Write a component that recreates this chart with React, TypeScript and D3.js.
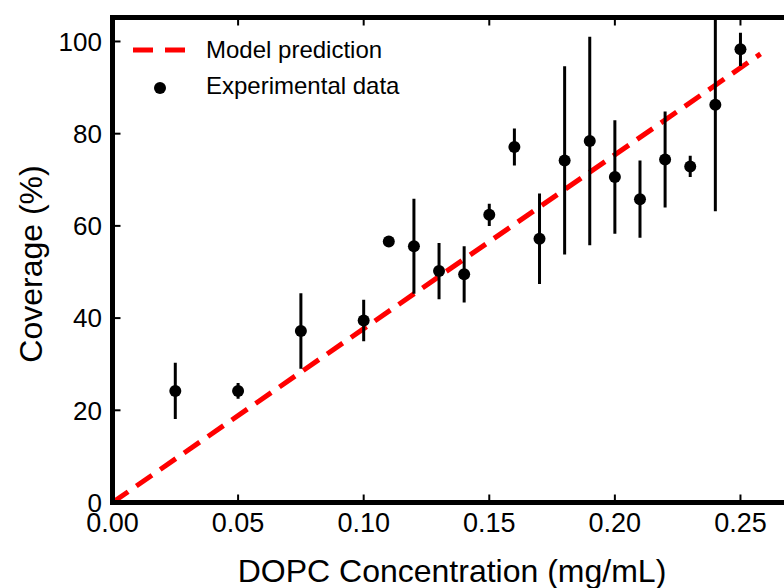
import React, { useEffect, useRef } from "react";
import * as d3 from "d3";

// DOPC concentration (mg/mL) and measured coverage (%) with error bars
const concentration = [0.025, 0.05, 0.075, 0.1, 0.11, 0.12, 0.13, 0.14, 0.15, 0.16, 0.17, 0.18, 0.19, 0.2, 0.21, 0.22, 0.23, 0.24, 0.25];
const coverage = [24.2, 24.2, 37.2, 39.5, 56.6, 55.6, 50.2, 49.5, 62.4, 77.1, 57.2, 74.2, 78.4, 70.6, 65.8, 74.4, 72.9, 86.3, 98.3];
const coverageErr = [6.1, 1.7, 8.2, 4.5, 0, 10.3, 6.1, 6.1, 2.4, 4.0, 9.8, 20.4, 22.6, 12.3, 8.4, 10.4, 2.3, 23.1, 3.6];

// model prediction line
const modelX = [0, 0.258];
const modelY = [0, 97.3];

const xTicks = [0, 0.05, 0.1, 0.15, 0.2, 0.25];
const yTicks = [0, 20, 40, 60, 80, 100];

const legendLabels = ["Model prediction", "Experimental data"];

const FONT = "'Liberation Sans', Arial, Helvetica, sans-serif";

export default function App() {
  const svgRef = useRef<SVGSVGElement>(null);
  const W = 784;
  const H = 588;
  const left = 112.5;
  const top = 17.5;
  const bottom = 502.5;
  const right = 790.7;

  useEffect(() => {
    const svg = d3.select(svgRef.current);
    svg.selectAll("*").remove();

    const x = d3.scaleLinear().domain([0, 0.27]).range([left, right]);
    const y = d3.scaleLinear().domain([0, 105.2]).range([bottom, top]);

    svg.append("rect").attr("width", W).attr("height", H).attr("fill", "#fff");

    svg
      .append("clipPath")
      .attr("id", "plotclip")
      .append("rect")
      .attr("x", left)
      .attr("y", top)
      .attr("width", right - left)
      .attr("height", bottom - top);

    const plot = svg.append("g").attr("clip-path", "url(#plotclip)");

    // model line
    const line = d3
      .line<number>()
      .x((d) => x(d))
      .y((d, i) => y(modelY[i]));
    plot
      .append("path")
      .attr("d", line(modelX))
      .attr("fill", "none")
      .attr("stroke", "#ff0000")
      .attr("stroke-width", 5)
      .attr("stroke-dasharray", "19,10");

    // error bars
    plot
      .selectAll(".err")
      .data(concentration)
      .enter()
      .append("line")
      .attr("x1", (d) => x(d))
      .attr("x2", (d) => x(d))
      .attr("y1", (d, i) => y(coverage[i] - coverageErr[i]))
      .attr("y2", (d, i) => y(coverage[i] + coverageErr[i]))
      .attr("stroke", "#000")
      .attr("stroke-width", 3);

    // points
    plot
      .selectAll(".pt")
      .data(concentration)
      .enter()
      .append("circle")
      .attr("cx", (d) => x(d))
      .attr("cy", (d, i) => y(coverage[i]))
      .attr("r", 6)
      .attr("fill", "#000");

    // ticks (inward, bottom/top/left)
    const ticks = svg.append("g").attr("stroke", "#000").attr("stroke-width", 2);
    xTicks.slice(1).forEach((t) => {
      ticks.append("line").attr("x1", x(t)).attr("x2", x(t)).attr("y1", bottom).attr("y2", bottom - 8);
      ticks.append("line").attr("x1", x(t)).attr("x2", x(t)).attr("y1", top).attr("y2", top + 8);
    });
    yTicks.slice(1).forEach((t) => {
      ticks.append("line").attr("x1", left).attr("x2", left + 8).attr("y1", y(t)).attr("y2", y(t));
    });

    // frame
    svg
      .append("rect")
      .attr("x", left)
      .attr("y", top)
      .attr("width", right - left)
      .attr("height", bottom - top)
      .attr("fill", "none")
      .attr("stroke", "#000")
      .attr("stroke-width", 5);

    // tick labels
    svg
      .append("g")
      .selectAll("text")
      .data(xTicks)
      .enter()
      .append("text")
      .attr("x", (d) => x(d))
      .attr("y", 532)
      .attr("text-anchor", "middle")
      .style("font-family", FONT)
      .style("font-size", "27px")
      .text((d) => d3.format(".2f")(d));

    svg
      .append("g")
      .selectAll("text")
      .data(yTicks)
      .enter()
      .append("text")
      .attr("x", 102)
      .attr("y", (d) => y(d))
      .attr("dy", "0.36em")
      .attr("text-anchor", "end")
      .style("font-family", FONT)
      .style("font-size", "26px")
      .text((d) => d);

    // axis titles
    svg
      .append("text")
      .attr("x", 452)
      .attr("y", 582)
      .attr("text-anchor", "middle")
      .style("font-family", FONT)
      .style("font-size", "32px")
      .text("DOPC Concentration (mg/mL)");

    svg
      .append("text")
      .attr("transform", `translate(42, 264) rotate(-90)`)
      .attr("text-anchor", "middle")
      .style("font-family", FONT)
      .style("font-size", "32px")
      .text("Coverage (%)");

    // legend
    const legend = svg.append("g");
    legend
      .append("line")
      .attr("x1", 133)
      .attr("x2", 185)
      .attr("y1", 50)
      .attr("y2", 50)
      .attr("stroke", "#ff0000")
      .attr("stroke-width", 5)
      .attr("stroke-dasharray", "20,12");
    legend.append("circle").attr("cx", 160).attr("cy", 88).attr("r", 6).attr("fill", "#000");
    legend
      .selectAll("text")
      .data(legendLabels)
      .enter()
      .append("text")
      .attr("x", 206)
      .attr("y", (d, i) => (i === 0 ? 57.5 : 94))
      .style("font-family", FONT)
      .style("font-size", "24px")
      .text((d) => d);
  }, []);

  return (
    <svg
      ref={svgRef}
      width={W}
      height={H}
      style={{ position: "absolute", left: 0, top: 0, overflow: "hidden" }}
    />
  );
}
